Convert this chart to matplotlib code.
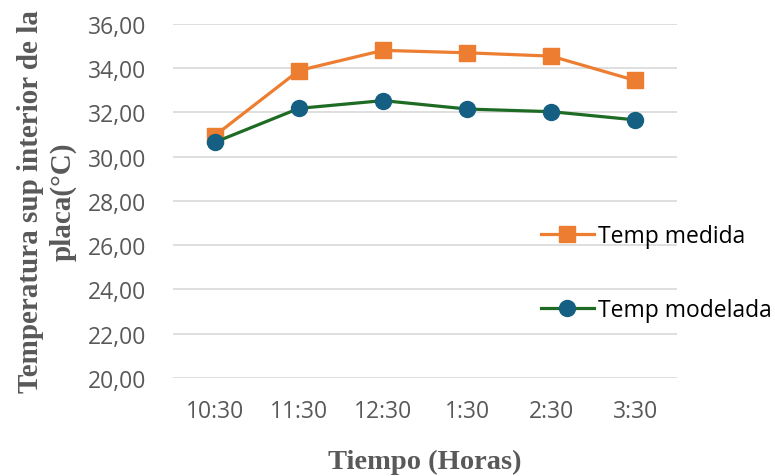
import matplotlib
matplotlib.use("Agg")
import matplotlib.pyplot as plt

horas = ["10:30", "11:30", "12:30", "1:30", "2:30", "3:30"]
temp_medida = [30.95, 33.89, 34.80, 34.69, 34.54, 33.44]
temp_modelada = [30.65, 32.18, 32.53, 32.15, 32.03, 31.66]
yticks = [20, 22, 24, 26, 28, 30, 32, 34, 36]

gris = "#595959"

fig = plt.figure(figsize=(7.75, 4.77), dpi=100)
ax = fig.add_axes([0.223, 0.2055, 0.651, 0.7425])

x = range(len(horas))
ax.plot(x, temp_medida, color="#ED7D31", lw=2.3, marker="s", ms=11.5,
        mfc="#ED7D31", mec="#ED7D31", label="Temp medida", zorder=3)
ax.plot(x, temp_modelada, color="#1E6B24", lw=2.3, marker="o", ms=11.5,
        mfc="#145F82", mec="#145F82", label="Temp modelada", zorder=3)

ax.set_xlim(-0.5, 5.5)
ax.set_ylim(20, 36)
ax.set_yticks(yticks)
ax.yaxis.set_major_formatter(plt.FuncFormatter(lambda v, p: ("%.2f" % v).replace(".", ",")))
ax.set_xticks(list(x))
ax.set_xticklabels(horas)
ax.grid(axis="y", color="#d9d9d9", lw=1.2)
ax.set_axisbelow(True)
for s in ax.spines.values():
    s.set_visible(False)
ax.tick_params(axis="both", length=0, labelcolor=gris, labelsize=16.5)
ax.tick_params(axis="y", pad=19)
ax.tick_params(axis="x", pad=15)
for lbl in ax.get_xticklabels() + ax.get_yticklabels():
    lbl.set_family("Open Sans")

lab = dict(family="Liberation Serif", weight="bold", color=gris)
ax.set_xlabel("Tiempo (Horas)", labelpad=19, fontsize=20.5, **lab)
ax.set_ylabel("Temperatura sup interior de la\nplaca(°C)", labelpad=8, linespacing=1.25,
              fontsize=21, **lab)

leg = ax.legend(loc="center left", bbox_to_anchor=(0.698, 0.425), bbox_transform=fig.transFigure,
                frameon=False, handlelength=2.3, handletextpad=0.2, labelspacing=2.2,
                borderaxespad=0, borderpad=0, prop={"family": "Open Sans", "size": 16.5})
for t in leg.get_texts():
    t.set_color("black")

fig.savefig("out.png", dpi=100)
